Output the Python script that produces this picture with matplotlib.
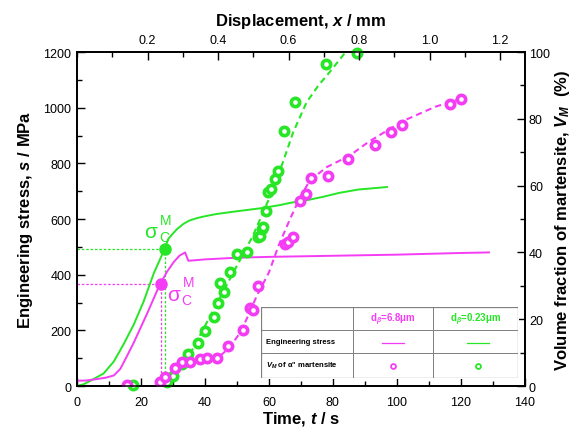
import matplotlib
matplotlib.use("Agg")
import matplotlib.pyplot as plt
from matplotlib.ticker import MultipleLocator

plt.rcParams['font.family'] = ['Liberation Sans', 'DejaVu Sans']
plt.rcParams['mathtext.fontset'] = 'custom'
plt.rcParams['mathtext.rm'] = 'Liberation Sans:bold'
plt.rcParams['mathtext.it'] = 'Liberation Sans:italic:bold'
plt.rcParams['mathtext.bf'] = 'Liberation Sans:bold'

GREEN = '#26E626'
MAGENTA = '#F53CF5'

# engineering stress curves (time s, stress MPa)
t_green = [0, 2, 4.2, 8.3, 11.5, 14.6, 17.7, 20.8, 24, 26.6, 28.6, 31.2, 33.2, 35, 37.4,
           40, 43.6, 50, 57, 63.4, 66.6, 72, 77, 82, 88, 93, 96.9]
s_green = [1, 6, 19, 45, 88, 151, 220, 303, 405, 472, 530, 563, 582, 594, 603,
           610, 618, 628, 638, 650, 658, 668, 680, 694, 706, 711, 715]

t_mag = [0, 3, 6.2, 9, 11.5, 13.5, 15.5, 17.7, 19.7, 21.9, 23.8, 25.5, 28.1, 30.2, 32,
         33.8, 34.8, 37, 40, 50, 60, 70, 80, 90, 100, 110, 120, 128.8]
s_mag = [19, 20, 25, 30, 38, 61, 105, 155, 205, 260, 310, 355, 410, 445, 468,
         480, 450, 452, 455, 461, 464, 466, 468, 470, 472, 475, 478, 480]

# critical stress for martensite (t, s)
crit_green = (27.6, 494)
crit_mag = (26.3, 365)

# volume fraction of martensite (time s, %)
vt_green = [17.6, 28, 30, 32.7, 34.8, 37.9, 40, 42.8, 44, 44.7, 45.9, 47.8, 49.9, 53,
            56.7, 57.2, 57.9, 58.2, 59.1, 59.8, 60.8, 61.9, 62.9, 64.8, 68.1, 78, 87.6]
v_green = [0.4, 1.2, 3.1, 6.6, 9.6, 13, 16.4, 20.6, 24.8, 30.7, 28.2, 34, 39.5, 40,
           44.5, 45, 47, 47.5, 52.3, 58, 59, 62, 64.5, 76.4, 85, 96.4, 99.6]

vt_mag = [15.5, 25.9, 27.5, 30.6, 32.7, 35.3, 38.4, 40.5, 43.8, 47.3, 51.8, 54, 55.1,
          56.5, 65, 66, 67.6, 69.6, 71.6, 73.1, 78.5, 84.8, 93.1, 98.3, 101.7, 116.6, 120.2]
v_mag = [0.4, 1.3, 2.6, 5.3, 7.3, 7.1, 8.1, 8.3, 8.3, 11.9, 16.9, 23.3, 22.8,
         30, 42.5, 43, 44.5, 55.5, 57.5, 62.2, 63, 68, 72.2, 76, 78, 84.3, 86]

# dashed trend lines of the volume fraction
ft_green = [27, 31, 35, 40, 45, 50, 55, 60, 64, 67.6, 71.8, 75.5, 79, 84]
fv_green = [0, 4, 9, 18, 27, 36, 45, 56, 66, 76, 85, 90, 94, 100]
ft_mag = [25, 28, 32.2, 35, 38.4, 41, 44.2, 46.5, 48.8, 51, 53, 56.2, 60, 63, 66.6,
          70, 72.8, 78, 85.3, 91, 97.8, 103, 108.2, 112, 116.6, 120]
fv_mag = [0, 3, 6, 7, 7.6, 8.1, 8.6, 10.5, 13, 16, 20, 27, 34, 42, 50,
          57, 61.5, 65.5, 69, 73, 77, 79.8, 82, 83.6, 85, 86]

fig = plt.figure(figsize=(5.8, 4.31), dpi=100)
ax = fig.add_axes([0.1328, 0.102, 0.772, 0.775])

ax.plot(t_green, s_green, color=GREEN, lw=1.4, zorder=3)
ax.plot(t_mag, s_mag, color=MAGENTA, lw=1.4, zorder=3)

# critical stress markers with dotted guides
for (tc, sc), col in [(crit_green, GREEN), (crit_mag, MAGENTA)]:
    ax.plot([0, tc], [sc, sc], color=col, lw=0.9, ls=(0, (2, 1.5)), zorder=2)
    ax.plot([tc, tc], [0, sc], color=col, lw=0.9, ls=(0, (2, 1.5)), zorder=2)
    ax.plot(tc, sc, 'o', color=col, ms=8, zorder=4)

ax.text(21.0, 555, 'σ', color=GREEN, fontsize=15, ha='left', va='center')
ax.text(26.0, 597, 'M', color=GREEN, fontsize=10, ha='left', va='center')
ax.text(25.8, 535, 'C', color=GREEN, fontsize=10, ha='left', va='center')
ax.text(28.2, 328, 'σ', color=MAGENTA, fontsize=15, ha='left', va='center')
ax.text(33.2, 375, 'M', color=MAGENTA, fontsize=10, ha='left', va='center')
ax.text(32.6, 310, 'C', color=MAGENTA, fontsize=10, ha='left', va='center')

ax.set_xlim(0, 140)
ax.set_ylim(0, 1200)
ax.xaxis.set_major_locator(MultipleLocator(20))
ax.xaxis.set_minor_locator(MultipleLocator(10))
ax.yaxis.set_major_locator(MultipleLocator(200))
ax.yaxis.set_minor_locator(MultipleLocator(100))
ax.set_xlabel('Time, $t$ / s', fontsize=12, fontweight='bold', labelpad=1)
ax.set_ylabel('Engineering stress, $s$ / MPa', fontsize=12, fontweight='bold', labelpad=6)

axr = ax.twinx()
axr.plot(ft_green, fv_green, color=GREEN, lw=1.5, ls=(0, (3, 2)), zorder=3)
axr.plot(ft_mag, fv_mag, color=MAGENTA, lw=1.5, ls=(0, (3, 2)), zorder=3)
axr.plot(vt_green, v_green, 'o', ms=6, mew=2.6, mfc='white', mec=GREEN, zorder=4, clip_on=False)
axr.plot(vt_mag, v_mag, 'o', ms=6, mew=2.6, mfc='white', mec=MAGENTA, zorder=4)
axr.set_ylim(0, 100)
axr.yaxis.set_major_locator(MultipleLocator(20))
axr.yaxis.set_minor_locator(MultipleLocator(10))
axr.set_ylabel('Volume fraction of martensite, $V_M$  (%)', fontsize=12,
               fontweight='bold', labelpad=2)

axt = ax.twiny()
axt.set_xlim(0, 1.27)
axt.set_xticks([0.2, 0.4, 0.6, 0.8, 1.0, 1.2])
axt.xaxis.set_minor_locator(MultipleLocator(0.1))
axt.set_xlabel('Displacement, $x$ / mm', fontsize=12, fontweight='bold', labelpad=7)

for a in (ax, axr, axt):
    a.tick_params(which='major', direction='in', length=6, width=1, labelsize=9, pad=4)
    a.tick_params(which='minor', direction='in', length=3.5, width=1)
    for sp in a.spines.values():
        sp.set_linewidth(1.1)
ax.tick_params(top=False, right=False, which='both')
ax.tick_params(axis='x', pad=7)
axr.tick_params(axis='y', pad=3)

# legend table
tab = fig.add_axes([261 / 580, 1 - 379 / 431, (518 - 261) / 580, (379 - 308) / 431], zorder=5)
tab.set_xlim(261, 518)
tab.set_ylim(379, 308)
tab.axis('off')
tab.fill_between([261, 518], 308, 379, color='white', zorder=0)
gray = '#7f7f7f'
tab.plot([261, 518, 518, 261, 261], [308, 308, 379, 379, 308], color=gray, lw=0.9)
for yy in (331, 354):
    tab.plot([261, 518], [yy, yy], color=gray, lw=0.7)
for xx in (353, 433):
    tab.plot([xx, xx], [308, 379], color=gray, lw=0.7)
tab.text(393, 319.5, 'd$_{β}$=6.8μm', color=MAGENTA, fontsize=7, fontweight='bold',
         ha='center', va='center')
tab.text(476, 319.5, 'd$_{β}$=0.23μm', color=GREEN, fontsize=7, fontweight='bold',
         ha='center', va='center')
tab.text(266, 342.5, 'Engineering stress', fontsize=5.5, fontweight='bold', va='center')
tab.text(266, 366, '$V_M$ of α" martensite', fontsize=5.5, fontweight='bold', va='center')
tab.plot([382, 404], [344, 344], color=MAGENTA, lw=0.9)
tab.plot([467, 489], [344, 344], color=GREEN, lw=0.9)
tab.plot(393, 367, 'o', ms=3.5, mew=1.3, mfc='white', mec=MAGENTA)
tab.plot(478, 367, 'o', ms=3.5, mew=1.3, mfc='white', mec=GREEN)

plt.savefig('out.png', dpi=100)
